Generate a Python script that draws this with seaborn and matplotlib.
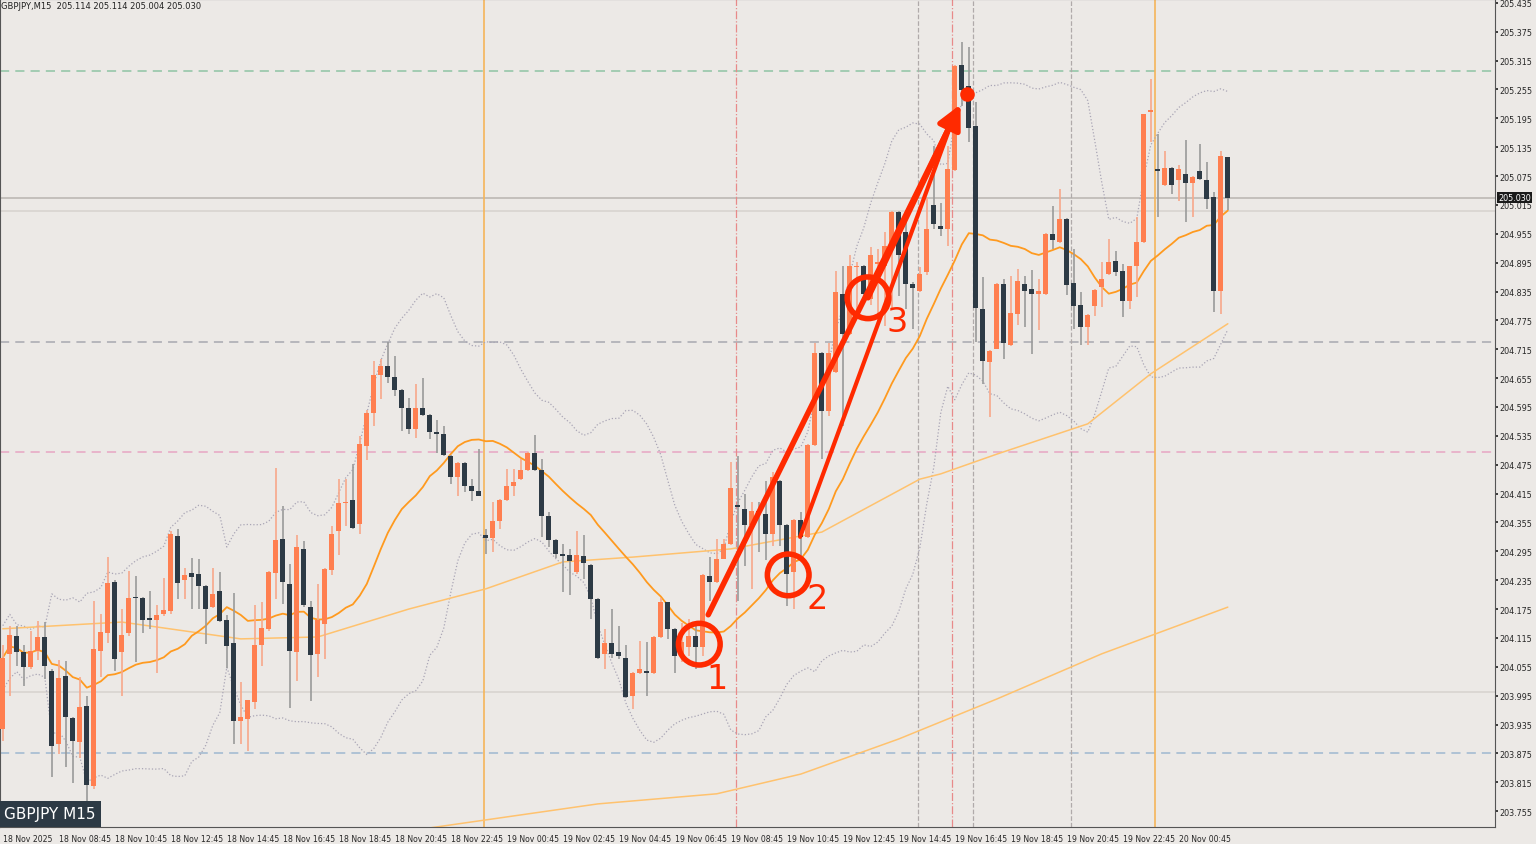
import numpy as np
import pandas as pd
import seaborn as sns
import matplotlib.pyplot as plt
from matplotlib.patches import Rectangle

# GBPJPY M15 candles, 18 Nov 06:45 -> 20 Nov 02:30
opens = [203.925, 204.081, 204.119, 204.086, 204.055, 204.088, 204.116, 204.047, 203.894, 204.036,
         203.948, 203.898, 203.974, 203.807, 204.088, 204.126, 204.232, 204.086, 204.125, 204.199,
         204.199, 204.157, 204.153, 204.164, 204.171, 204.326, 204.236, 204.249, 204.248, 204.223,
         204.180, 204.213, 204.153, 204.104, 203.943, 203.946, 203.982, 204.100, 204.133, 204.249,
         204.320, 204.227, 204.086, 204.300, 204.180, 204.081, 204.144, 204.256, 204.338, 204.395,
         204.402, 204.351, 204.513, 204.583, 204.661, 204.681, 204.657, 204.631, 204.592, 204.549,
         204.592, 204.578, 204.542, 204.539, 204.494, 204.449, 204.478, 204.431, 204.421, 204.328,
         204.322, 204.357, 204.402, 204.431, 204.445, 204.464, 204.500, 204.463, 204.369, 204.318,
         204.290, 204.287, 204.253, 204.286, 204.267, 204.195, 204.081, 204.104, 204.085, 204.074,
         203.995, 204.043, 204.047, 204.043, 204.116, 204.189, 204.134, 204.078, 204.096, 204.120,
         204.096, 204.243, 204.231, 204.280, 204.310, 204.391, 204.384, 204.350, 204.379, 204.372,
         204.331, 204.442, 204.350, 204.251, 204.361, 204.324, 204.516, 204.707, 204.587, 204.667,
         204.830, 204.747, 204.886, 204.889, 204.820, 204.892, 204.889, 204.930, 205.000, 204.958,
         204.851, 204.837, 204.875, 205.014, 204.972, 204.965, 205.087, 205.305, 205.263, 205.179,
         204.799, 204.688, 204.716, 204.851, 204.724, 204.789, 204.851, 204.840, 204.829, 204.830,
         204.955, 204.937, 204.985, 204.853, 204.807, 204.761, 204.804, 204.844, 204.872, 204.899,
         204.878, 204.816, 204.889, 204.937, 205.208, 205.090, 205.057, 205.091, 205.066, 205.080,
         205.061, 205.086, 205.066, 205.031, 204.836, 205.114]
highs = [204.100, 204.140, 204.140, 204.100, 204.130, 204.150, 204.148, 204.050, 204.070, 204.067,
         203.950, 204.033, 203.995, 204.192, 204.164, 204.283, 204.235, 204.175, 204.254, 204.243,
         204.200, 204.213, 204.183, 204.240, 204.338, 204.342, 204.260, 204.282, 204.280, 204.225,
         204.261, 204.251, 204.163, 204.209, 204.023, 203.987, 204.183, 204.189, 204.255, 204.469,
         204.390, 204.268, 204.329, 204.317, 204.192, 204.227, 204.260, 204.348, 204.445, 204.445,
         204.476, 204.534, 204.588, 204.691, 204.695, 204.731, 204.702, 204.633, 204.614, 204.642,
         204.656, 204.580, 204.567, 204.556, 204.496, 204.480, 204.480, 204.445, 204.507, 204.342,
         204.397, 204.404, 204.466, 204.466, 204.487, 204.502, 204.536, 204.487, 204.376, 204.320,
         204.310, 204.299, 204.338, 204.328, 204.269, 204.197, 204.133, 204.175, 204.140, 204.100,
         204.045, 204.109, 204.106, 204.118, 204.199, 204.190, 204.136, 204.147, 204.154, 204.151,
         204.248, 204.283, 204.320, 204.321, 204.480, 204.494, 204.414, 204.397, 204.397, 204.442,
         204.460, 204.443, 204.352, 204.363, 204.376, 204.518, 204.729, 204.709, 204.729, 204.878,
         204.889, 204.910, 204.896, 204.891, 204.927, 204.924, 204.958, 205.002, 205.002, 204.986,
         204.854, 204.885, 205.030, 205.138, 205.020, 205.138, 205.305, 205.353, 205.343, 205.229,
         204.865, 204.714, 204.853, 204.861, 204.868, 204.882, 204.868, 204.879, 204.861, 204.957,
         205.012, 205.048, 204.987, 204.924, 204.834, 204.788, 204.841, 204.896, 204.944, 204.920,
         204.892, 204.888, 204.990, 205.204, 205.277, 205.163, 205.128, 205.093, 205.097, 205.149,
         205.076, 205.142, 205.104, 205.041, 205.128, 205.114]
lows = [203.900, 203.995, 204.057, 204.015, 204.050, 204.070, 204.030, 203.825, 203.873, 203.846,
        203.814, 203.866, 203.773, 203.800, 204.033, 204.105, 204.047, 203.995, 204.120, 204.064,
        204.126, 204.133, 204.043, 204.160, 204.165, 204.195, 204.195, 204.175, 204.175, 204.102,
        204.178, 204.148, 204.053, 203.894, 203.894, 203.880, 203.967, 204.057, 204.130, 204.195,
        204.185, 203.970, 204.026, 204.180, 203.984, 204.033, 204.071, 204.245, 204.287, 204.348,
        204.341, 204.331, 204.484, 204.556, 204.611, 204.645, 204.617, 204.545, 204.538, 204.531,
        204.576, 204.528, 204.500, 204.494, 204.435, 204.411, 204.419, 204.400, 204.409, 204.289,
        204.294, 204.341, 204.400, 204.411, 204.443, 204.462, 204.461, 204.324, 204.303, 204.282,
        204.210, 204.204, 204.248, 204.237, 204.155, 204.072, 204.051, 204.074, 204.071, 203.990,
        203.967, 204.040, 203.995, 204.040, 204.114, 204.113, 204.043, 204.064, 204.078, 204.050,
        204.078, 204.192, 204.229, 204.278, 204.308, 204.192, 204.265, 204.217, 204.293, 204.276,
        204.307, 204.307, 204.182, 204.176, 204.286, 204.322, 204.514, 204.487, 204.577, 204.665,
        204.556, 204.745, 204.799, 204.826, 204.806, 204.764, 204.764, 204.799, 204.826, 204.799,
        204.757, 204.833, 204.870, 204.965, 204.951, 204.930, 205.085, 205.220, 205.145, 204.730,
        204.643, 204.574, 204.715, 204.695, 204.722, 204.766, 204.761, 204.705, 204.754, 204.828,
        204.924, 204.935, 204.827, 204.757, 204.724, 204.724, 204.785, 204.802, 204.870, 204.868,
        204.782, 204.799, 204.823, 204.935, 205.145, 204.990, 205.055, 205.038, 205.024, 204.979,
        204.990, 205.066, 205.007, 204.793, 204.788, 205.004]
closes = [204.074, 204.121, 204.086, 204.055, 204.088, 204.116, 204.057, 203.891, 204.031, 203.950,
          203.900, 203.972, 203.810, 204.092, 204.128, 204.230, 204.071, 204.121, 204.197, 204.197,
          204.153, 204.153, 204.163, 204.174, 204.331, 204.229, 204.245, 204.242, 204.223, 204.176,
          204.207, 204.150, 204.098, 203.943, 203.950, 203.985, 204.100, 204.135, 204.253, 204.319,
          204.232, 204.088, 204.303, 204.183, 204.079, 204.152, 204.258, 204.331, 204.395, 204.395,
          204.344, 204.518, 204.583, 204.661, 204.681, 204.657, 204.631, 204.592, 204.549, 204.592,
          204.578, 204.543, 204.539, 204.496, 204.449, 204.478, 204.431, 204.421, 204.411, 204.322,
          204.357, 204.402, 204.431, 204.440, 204.464, 204.500, 204.463, 204.369, 204.318, 204.290,
          204.286, 204.274, 204.287, 204.270, 204.195, 204.074, 204.104, 204.081, 204.078, 203.992,
          204.043, 204.050, 204.043, 204.116, 204.189, 204.134, 204.078, 204.106, 204.120, 204.096,
          204.246, 204.231, 204.280, 204.310, 204.426, 204.388, 204.350, 204.379, 204.372, 204.331,
          204.449, 204.350, 204.248, 204.361, 204.324, 204.516, 204.707, 204.587, 204.707, 204.833,
          204.747, 204.889, 204.889, 204.830, 204.910, 204.896, 204.930, 205.000, 204.910, 204.851,
          204.842, 204.872, 204.965, 204.976, 204.965, 205.089, 205.303, 205.253, 205.175, 204.800,
          204.691, 204.712, 204.851, 204.728, 204.790, 204.856, 204.837, 204.829, 204.836, 204.955,
          204.942, 204.986, 204.849, 204.804, 204.761, 204.786, 204.839, 204.861, 204.897, 204.876,
          204.816, 204.888, 204.937, 205.204, 205.213, 205.085, 205.091, 205.057, 205.089, 205.061,
          205.074, 205.068, 205.027, 204.836, 205.116, 205.030]

# slower moving averages (candle index, price)
ma_mid_idx = [0, 17, 34, 45, 58, 69, 80, 90, 104, 117, 131, 134, 142, 155, 164, 175]
ma_mid_val = [204.134, 204.148, 204.113, 204.117, 204.175, 204.217, 204.273, 204.283, 204.300,
              204.335, 204.445, 204.456, 204.497, 204.560, 204.664, 204.768]
ma_long_idx = [60, 85, 102, 114, 128, 142, 157, 175]
ma_long_val = [203.718, 203.770, 203.791, 203.832, 203.905, 203.988, 204.082, 204.179]

tick_idx = list(range(0, 169, 8))
tick_labels = ["18 Nov 2025", "18 Nov 08:45", "18 Nov 10:45", "18 Nov 12:45", "18 Nov 14:45",
               "18 Nov 16:45", "18 Nov 18:45", "18 Nov 20:45", "18 Nov 22:45", "19 Nov 00:45",
               "19 Nov 02:45", "19 Nov 04:45", "19 Nov 06:45", "19 Nov 08:45", "19 Nov 10:45",
               "19 Nov 12:45", "19 Nov 14:45", "19 Nov 16:45", "19 Nov 18:45", "19 Nov 20:45",
               "19 Nov 22:45", "20 Nov 00:45"]

df = pd.DataFrame({"o": opens, "h": highs, "l": lows, "c": closes})
df["i"] = np.arange(len(df))
df["ma20"] = df["c"].rolling(20, min_periods=1).mean()
sd = df["c"].rolling(20, min_periods=2).std().bfill()
df["bb_up"] = df["ma20"] + 2 * sd
df["bb_dn"] = df["ma20"] - 2 * sd

BG = "#ECE9E6"
BULL = "#FF7F50"
BEAR = "#2D3A45"

sns.set_theme(style="white")
plt.rcParams["font.family"] = ["DejaVu Sans"]
fig = plt.figure(figsize=(15.36, 8.45), dpi=100)
fig.patch.set_facecolor(BG)
ax = fig.add_axes([0, (845 - 828) / 845, 1495 / 1536, 828 / 845])
ax.set_facecolor(BG)

ymin, ymax = 203.722, 205.443
ax.set_ylim(ymin, ymax)
ax.set_xlim(-0.4, -0.4 + 1495 / 7)

# horizontal levels
for lvl, col, ls in [(205.294, "#8fc4a4", (0, (6, 4))), (204.730, "#a8a8b0", (0, (6, 4))),
                     (204.502, "#e8a6c4", (0, (6, 4))), (203.876, "#9fb8d0", (0, (6, 4))),
                     (205.030, "#b8b4b0", "-"), (205.003, "#d6d2ce", "-"), (204.003, "#d6d2ce", "-")]:
    ax.axhline(lvl, color=col, lw=1.1, ls=ls, zorder=1)
# vertical markers
for xi in [68.7, 164.6]:
    ax.axvline(xi, color="#f5b55a", lw=1.2, zorder=1)
for xi in [104.8, 135.6]:
    ax.axvline(xi, color="#e88a8a", lw=0.9, ls="-.", zorder=1)
for xi in [130.7, 138.6, 152.6]:
    ax.axvline(xi, color="#b0aaaa", lw=0.9, ls="--", zorder=1)

# bands and averages
sns.lineplot(data=df, x="i", y="bb_up", ax=ax, color="#a9a5b5", lw=0.9, ls=":", zorder=2)
sns.lineplot(data=df, x="i", y="bb_dn", ax=ax, color="#a9a5b5", lw=0.9, ls=":", zorder=2)
sns.lineplot(x=ma_mid_idx, y=ma_mid_val, ax=ax, color="#ffc26e", lw=1.1, zorder=2)
sns.lineplot(x=ma_long_idx, y=ma_long_val, ax=ax, color="#ffc26e", lw=1.1, zorder=2)
sns.lineplot(data=df, x="i", y="ma20", ax=ax, color="#ff9a1f", lw=1.3, zorder=3)

# candles
for r in df.itertuples():
    bull = r.c >= r.o
    col = BULL if bull else BEAR
    wick = "#f8a88a" if bull else "#9a9a9a"
    ax.vlines(r.i, r.l, r.h, color=wick, lw=1.2, zorder=4)
    lo, hi = min(r.o, r.c), max(r.o, r.c)
    ax.add_patch(Rectangle((r.i - 0.33, lo), 0.66, max(hi - lo, 0.0025), color=col, zorder=5, lw=0))

# hand-drawn annotations
red = "#ff2a00"
ax.annotate("", xy=(137, 205.229), xytext=(100.6, 204.158),
            arrowprops=dict(arrowstyle="-|>,head_length=1.2,head_width=0.6", color=red, lw=4), zorder=7)
ax.plot([113.9, 136], [204.325, 205.204], color=red, lw=3, zorder=7)
ax.plot([123.6, 136.3], [204.822, 205.21], color=red, lw=4, zorder=7)
ax.scatter([99.5, 112.2, 123.6], [204.102, 204.246, 204.822], s=900, facecolors="none",
           edgecolors=red, linewidths=4, zorder=8)
ax.scatter([137.8], [205.246], s=90, color=red, zorder=8)
for t, xx, yy in [("1", 102, 204.03), ("2", 116.3, 204.196), ("3", 127.8, 204.772)]:
    ax.text(xx, yy, t, color=red, fontsize=24, ha="center", va="center", zorder=8)

# axes styling
ax.set_xlabel("")
ax.set_ylabel("")
ax.set_xticks(tick_idx)
ax.set_xticklabels(tick_labels, fontsize=5.6, ha="left")
ax.tick_params(axis="x", length=3, pad=2)
yt = np.round(np.arange(203.755, 205.436, 0.06), 3)
ax.set_yticks(yt)
ax.set_yticklabels([f"{v:.3f}" for v in yt], fontsize=5.8)
ax.yaxis.tick_right()
ax.tick_params(axis="y", length=2, pad=1)
for s in ax.spines.values():
    s.set_color("#555555")
    s.set_linewidth(0.8)

ax.text(1.002, 205.030, "205.030", transform=ax.get_yaxis_transform(), fontsize=5.8, color="white",
        va="center", ha="left", bbox=dict(boxstyle="square,pad=0.15", fc="#1a1a1a", ec="none"), zorder=9)
ax.text(0.001, 0.997, "GBPJPY,M15  205.114 205.114 205.004 205.030", transform=ax.transAxes,
        fontsize=6, va="top", ha="left", color="#222222")
fig.text(4 / 1536, 1 - 815 / 845, "GBPJPY M15", fontsize=11, color="white", va="center", ha="left",
         bbox=dict(boxstyle="square,pad=0.35", fc="#2d3a45", ec="none"))

fig.savefig("out.png", dpi=100, facecolor=BG)
